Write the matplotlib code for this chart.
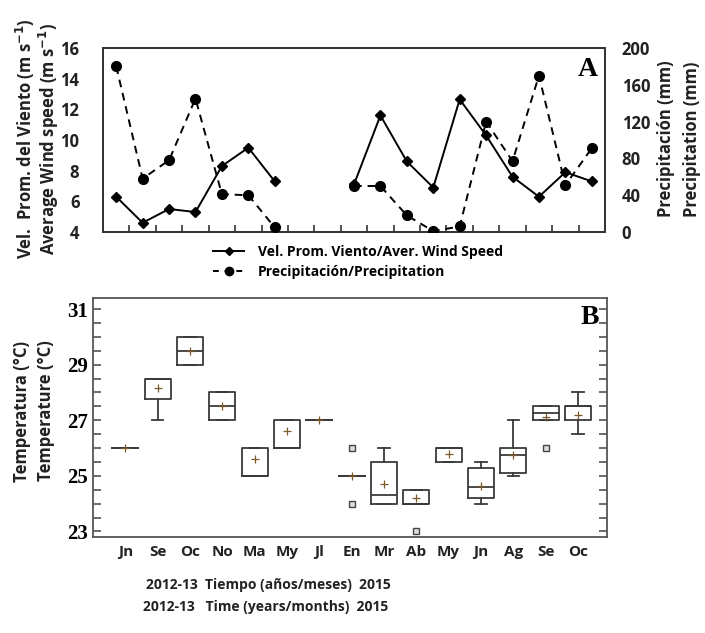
import matplotlib
matplotlib.use("Agg")
import matplotlib.pyplot as plt
from matplotlib.lines import Line2D
import numpy as np

# ---------------- Data ----------------
# Panel A: monthly series (19 months, two missing)
wind = [6.3, 4.6, 5.5, 5.3, 8.3, 9.5, 7.3, None, None, 7.1, 11.6, 8.6, 6.9, 12.65, 10.3, 7.6, 6.3, 7.9, 7.3]
precip = [180, 58, 78, 145, 41, 40, 5, None, None, 50, 50, 18, 1, 6, 120, 77, 170, 51, 91]

# Panel B: temperature box statistics
months_b = ['Jn', 'Se', 'Oc', 'No', 'Ma', 'My', 'Jl', 'En', 'Mr', 'Ab', 'My', 'Jn', 'Ag', 'Se', 'Oc']
q1 = [26, 27.75, 29, 27, 25, 26, 27, 25, 24, 24, 25.5, 24.2, 25.1, 27, 27]
q3 = [26, 28.5, 30, 28, 26, 27, 27, 25, 25.5, 24.5, 26, 25.3, 26, 27.5, 27.5]
med = [26, 28.5, 29.5, 27.5, 25, 26, 27, 25, 24.3, 24, 26, 24.6, 25.75, 27.25, 27.5]
whislo = [26, 27, 29, 27, 25, 26, 27, 25, 24, 24, 25.5, 24.0, 25.0, 27, 26.5]
whishi = [26, 28.5, 30, 28, 26, 27, 27, 25, 26, 24.5, 26, 25.5, 27, 27.5, 28]
means = [26, 28.15, 29.5, 27.5, 25.6, 26.6, 27, 25, 24.7, 24.2, 25.8, 24.65, 25.75, 27.1, 27.2]
fliers = [[], [], [], [], [], [], [], [26, 24], [], [23], [], [], [], [26], []]

SANS = 'Open Sans'
SERIF = 'Liberation Serif'
TXT = '#222222'

fig = plt.figure(figsize=(7.05, 6.33), dpi=100)

# ---------------- Panel A ----------------
axA = fig.add_axes([103/705, 1-232/633, 502/705, 184/633])
x = np.arange(len(wind))
w = np.array([np.nan if v is None else v for v in wind], dtype=float)
p = np.array([np.nan if v is None else v for v in precip], dtype=float)

axA.plot(x, w, color='black', lw=1.4, marker='D', ms=5, zorder=3)
axA.set_ylim(4, 16)
axA.set_yticks([4, 6, 8, 10, 12, 14, 16])
axA.set_xlim(-0.5, len(wind) - 0.5)
axA.set_xticks(np.arange(0.5, len(wind) - 0.5, 1.0))
axA.set_xticklabels([])
axA.tick_params(axis='x', direction='in', length=5, width=1.2, color='#333333')
axA.tick_params(axis='y', length=0, pad=17)
for lab in axA.get_yticklabels():
    lab.set_fontfamily(SANS)
    lab.set_fontweight('bold')
    lab.set_fontsize(12)
    lab.set_color(TXT)

axA2 = axA.twinx()
axA2.plot(x, p, color='black', lw=1.4, ls=(0, (4, 3)), marker='o', ms=7, zorder=3)
axA2.set_ylim(0, 200)
axA2.set_yticks([0, 40, 80, 120, 160, 200])
axA2.tick_params(axis='y', length=0, pad=12)
for lab in axA2.get_yticklabels():
    lab.set_fontfamily(SANS)
    lab.set_fontweight('bold')
    lab.set_fontsize(12)
    lab.set_color(TXT)
for ax in (axA, axA2):
    for s in ax.spines.values():
        s.set_linewidth(1.3)
        s.set_color('#333333')

axA.text(0.985, 0.95, 'A', transform=axA.transAxes, ha='right', va='top',
         fontfamily=SERIF, fontweight='bold', fontsize=20)

fig.text(25/705, 1-139/633, 'Vel.  Prom. del Viento (m s$^{\\mathbf{-1}}$)', rotation=90,
         ha='center', va='center', fontfamily=SANS, fontweight='bold', fontsize=12, color=TXT)
fig.text(49/705, 1-139/633, 'Average Wind speed (m s$^{\\mathbf{-1}}$)', rotation=90,
         ha='center', va='center', fontfamily=SANS, fontweight='bold', fontsize=12, color=TXT)
fig.text(666/705, 1-139/633, 'Precipitación (mm)', rotation=90,
         ha='center', va='center', fontfamily=SANS, fontweight='bold', fontsize=12, color=TXT)
fig.text(692/705, 1-139/633, 'Precipitation (mm)', rotation=90,
         ha='center', va='center', fontfamily=SANS, fontweight='bold', fontsize=12, color=TXT)

handles = [Line2D([], [], color='black', lw=1.4, marker='D', ms=4),
           Line2D([], [], color='black', lw=1.4, ls=(0, (3, 3)), marker='o', ms=6)]
fig.legend(handles, ['Vel. Prom. Viento/Aver. Wind Speed', 'Precipitación/Precipitation'],
           loc='center', bbox_to_anchor=(358/705, 1-262/633), frameon=False,
           handlelength=2.2, handletextpad=1.0, labelspacing=0.4,
           prop={'family': SANS, 'weight': 'bold', 'size': 10})

# ---------------- Panel B ----------------
axB = fig.add_axes([93/705, 1-537/633, 514/705, 239/633])
stats = []
for i in range(len(months_b)):
    stats.append(dict(med=med[i], q1=q1[i], q3=q3[i], whislo=whislo[i], whishi=whishi[i],
                      mean=means[i], fliers=fliers[i]))
pos = np.arange(1, len(months_b) + 1)
col = '#3a3a3a'
axB.bxp(stats, positions=pos, widths=0.8, capwidths=0.35, showmeans=True,
        boxprops=dict(color=col, lw=1.3),
        medianprops=dict(color=col, lw=1.3),
        whiskerprops=dict(color=col, lw=1.3),
        capprops=dict(color=col, lw=1.3),
        meanprops=dict(marker='+', markeredgecolor='#7a5a2a', markersize=6, markeredgewidth=0.9),
        flierprops=dict(marker='s', markersize=4.5, markerfacecolor='#dddddd',
                        markeredgecolor='#444444', markeredgewidth=1.0))
axB.set_xlim(0, 15.9)
axB.set_ylim(22.8, 31.4)
axB.set_yticks([23, 25, 27, 29, 31])
axB.set_yticks(np.arange(23, 31.01, 0.5), minor=True)
axB.set_xticks(pos)
axB.set_xticklabels(months_b)
axB.tick_params(axis='x', length=0, pad=6)
axB.tick_params(axis='y', which='both', direction='in', length=6, width=1.1, color='#444444',
                left=True, right=True)
for lab in axB.get_yticklabels():
    lab.set_fontfamily(SERIF)
    lab.set_fontweight('bold')
    lab.set_fontsize(15)
for lab in axB.get_xticklabels():
    lab.set_fontfamily(SANS)
    lab.set_fontweight('bold')
    lab.set_fontsize(11)
    lab.set_color(TXT)
for s in axB.spines.values():
    s.set_linewidth(1.3)
    s.set_color('#555555')

axB.text(0.985, 0.97, 'B', transform=axB.transAxes, ha='right', va='top',
         fontfamily=SERIF, fontweight='bold', fontsize=20)

fig.text(22/705, 1-411/633, 'Temperatura (°C)', rotation=90, ha='center', va='center',
         fontfamily=SANS, fontweight='bold', fontsize=12, color=TXT)
fig.text(46/705, 1-411/633, 'Temperature (°C)', rotation=90, ha='center', va='center',
         fontfamily=SANS, fontweight='bold', fontsize=12, color=TXT)

fig.text(268/705, 1-585/633, '2012-13  Tiempo (años/meses)  2015', ha='center', va='center',
         fontfamily=SANS, fontweight='bold', fontsize=10, color=TXT)
fig.text(266/705, 1-607/633, '2012-13   Time (years/months)  2015', ha='center', va='center',
         fontfamily=SANS, fontweight='bold', fontsize=10, color=TXT)

fig.savefig('out.png', dpi=100)
